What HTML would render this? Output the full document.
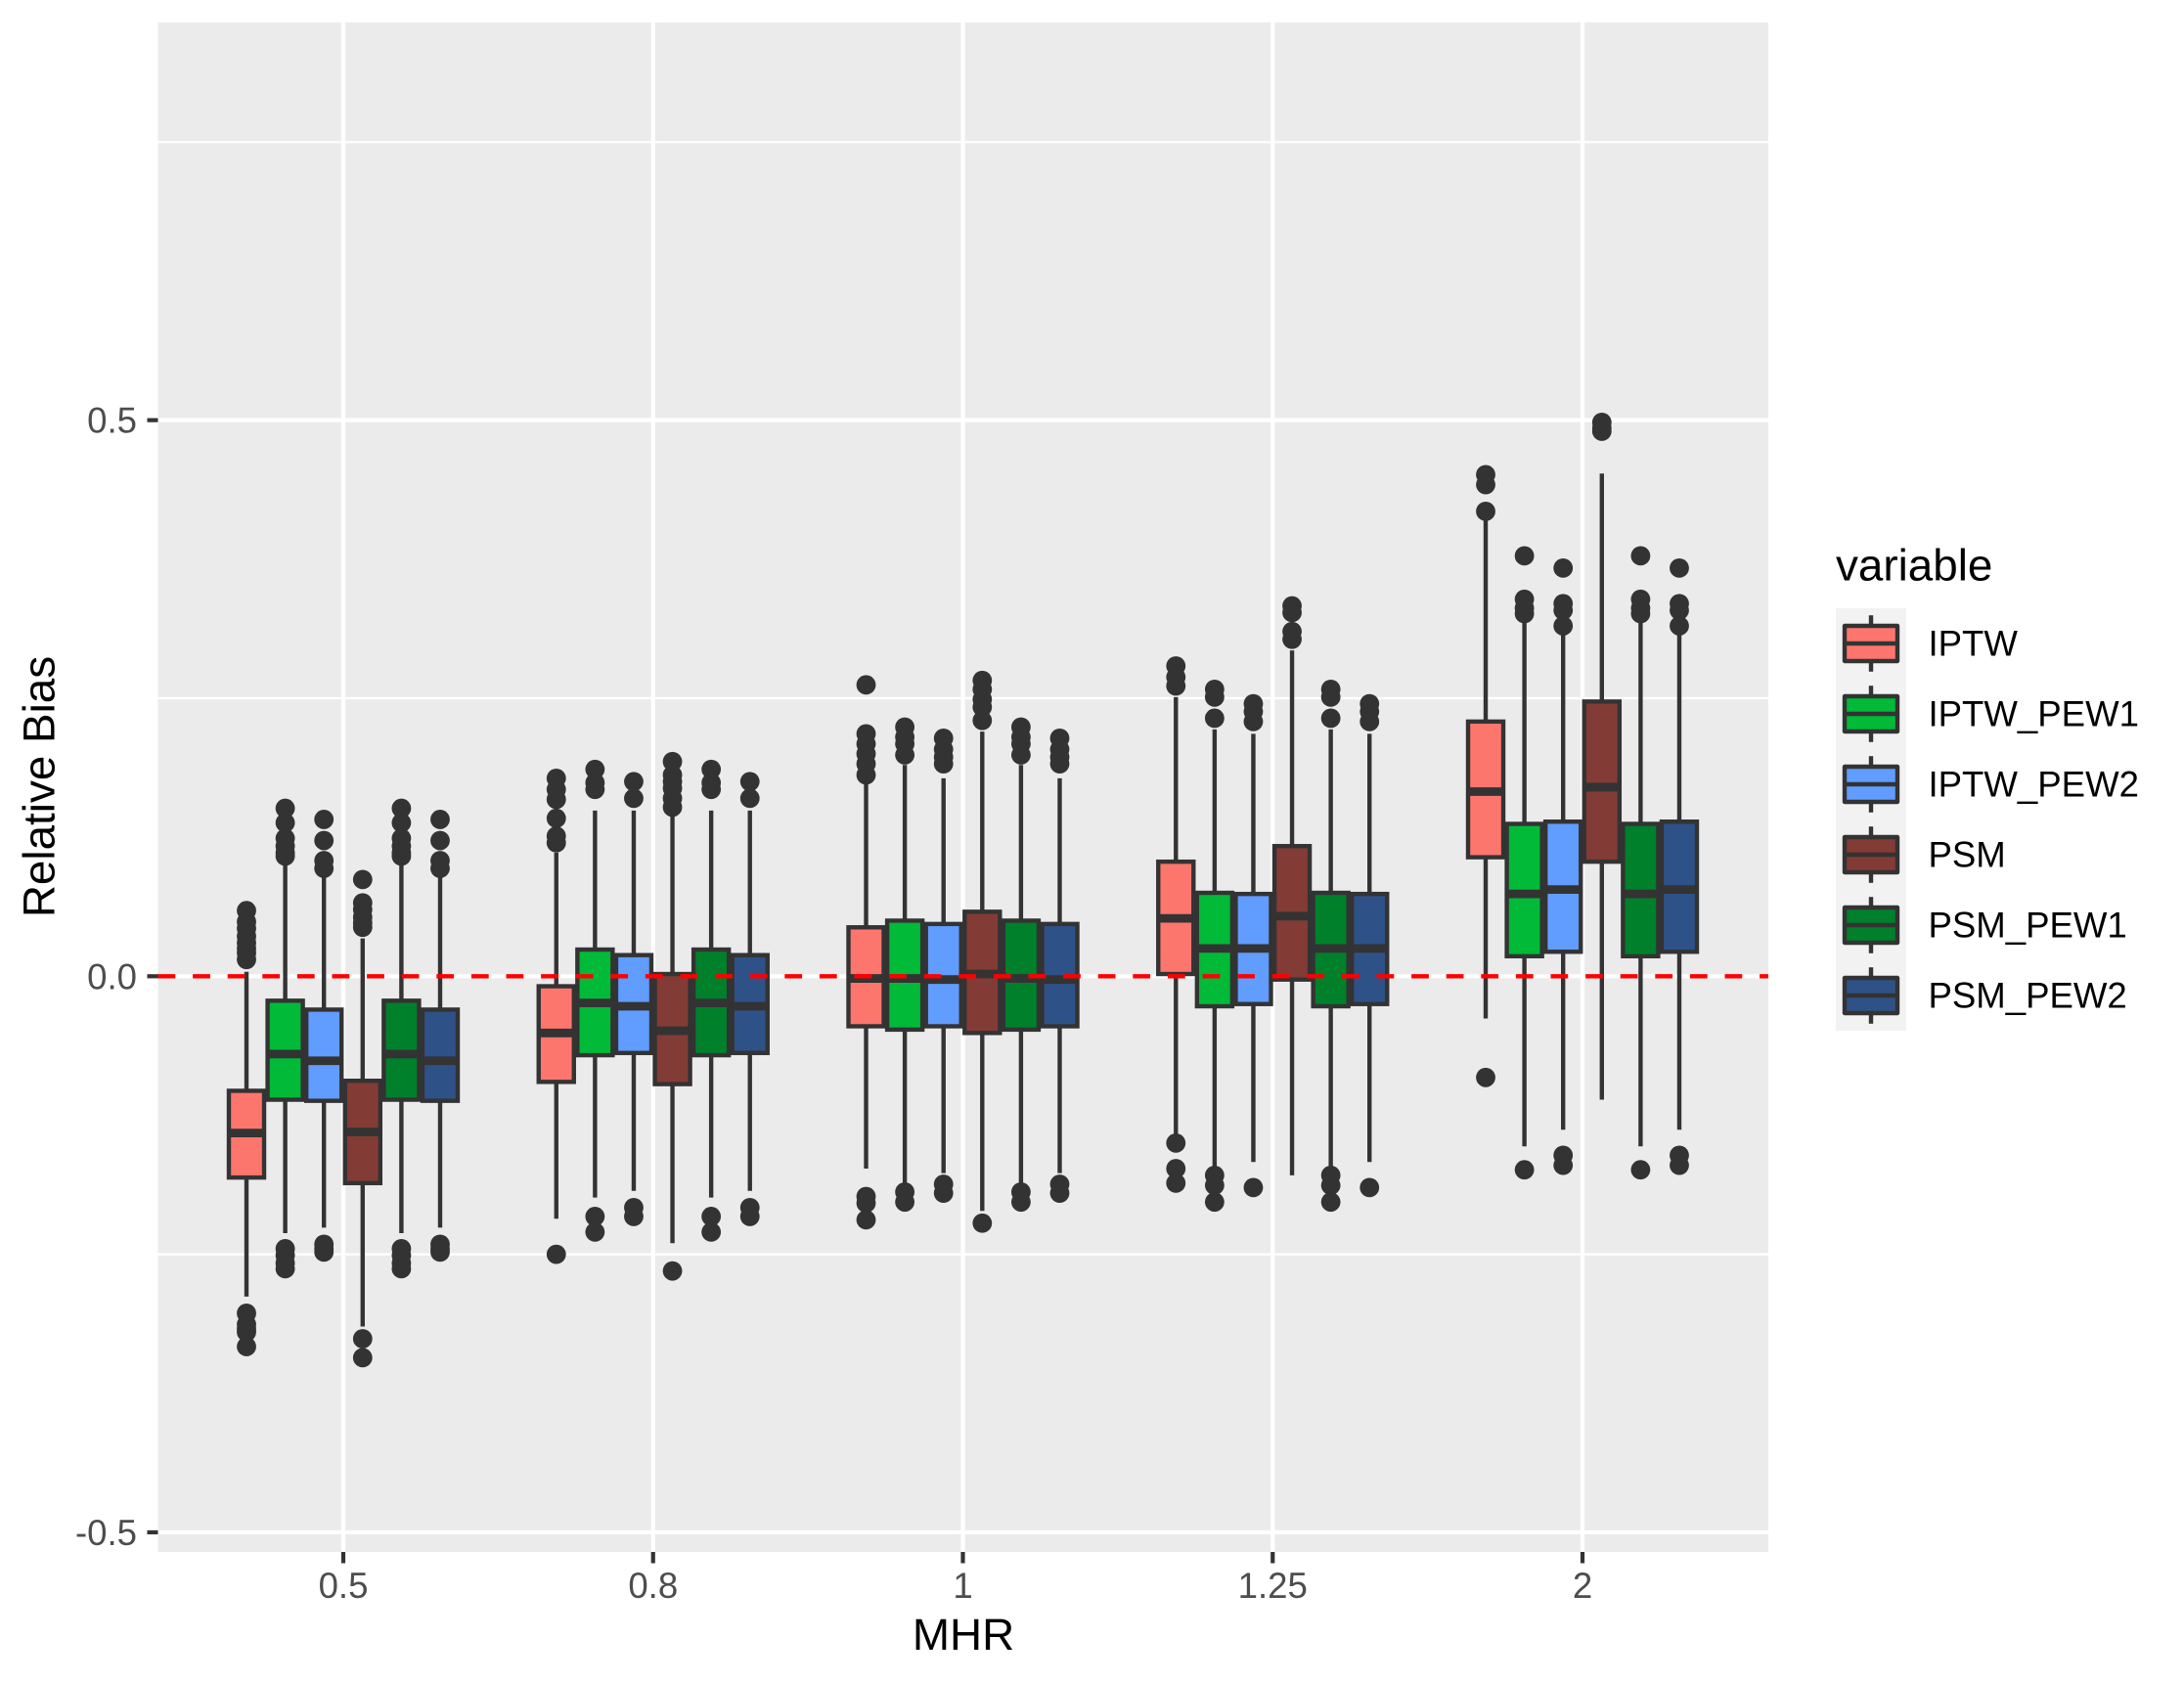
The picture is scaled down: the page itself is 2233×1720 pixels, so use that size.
<!DOCTYPE html>
<html lang="en">
<head>
<meta charset="utf-8">
<title>Relative Bias by MHR</title>
<style>
html,body{margin:0;padding:0;background:#fff;}
svg{display:block;font-family:"Liberation Sans",sans-serif;}
</style>
</head>
<body>
<svg id="chart" xmlns="http://www.w3.org/2000/svg" width="2233" height="1720" viewBox="0 0 2233 1720">
  <rect x="0" y="0" width="2233" height="1720" fill="#ffffff"/>
  <rect x="161.5" y="23" width="1646.5" height="1564" fill="#ebebeb"/>
  <g id="grid"></g>
  <g id="marks"></g>
  <g id="axes"></g>
  <text x="985" y="1687" font-size="45.8" text-anchor="middle" fill="#000">MHR</text>
  <text transform="translate(55.5,804.5) rotate(-90)" font-size="45.8" text-anchor="middle" fill="#000">Relative Bias</text>
  <text x="1877" y="593.5" font-size="45.8" fill="#000">variable</text>
  <g id="legend"></g>
</svg>
<script>
const categories = ["0.5", "0.8", "1", "1.25", "2"];
const methods = ["IPTW", "IPTW_PEW1", "IPTW_PEW2", "PSM", "PSM_PEW1", "PSM_PEW2"];
const yTickLabels = ["-0.5", "0.0", "0.5"];
const yTickValues = [-0.5, 0, 0.5];
const yMinorValues = [-0.25, 0.25, 0.75];
const referenceValue = [0];

// Rows: categories. Columns: methods.
const q3 = [
  [-0.103, -0.022, -0.030, -0.094, -0.022, -0.030],
  [-0.009, 0.024, 0.019, 0.002, 0.024, 0.019],
  [0.044, 0.050, 0.047, 0.058, 0.050, 0.047],
  [0.103, 0.075, 0.074, 0.117, 0.075, 0.074],
  [0.229, 0.137, 0.139, 0.247, 0.137, 0.139]
];
const medians = [
  [-0.141, -0.070, -0.076, -0.140, -0.070, -0.076],
  [-0.051, -0.024, -0.027, -0.049, -0.024, -0.027],
  [-0.002, -0.002, -0.003, 0.002, -0.002, -0.003],
  [0.052, 0.025, 0.025, 0.054, 0.025, 0.025],
  [0.166, 0.074, 0.078, 0.170, 0.074, 0.078]
];
const q1 = [
  [-0.181, -0.111, -0.112, -0.186, -0.111, -0.112],
  [-0.095, -0.071, -0.069, -0.097, -0.071, -0.069],
  [-0.045, -0.048, -0.045, -0.051, -0.048, -0.045],
  [0.002, -0.027, -0.025, -0.003, -0.027, -0.025],
  [0.107, 0.018, 0.022, 0.103, 0.018, 0.022]
];
const whiskerHigh = [
  [0.004, 0.100, 0.090, 0.034, 0.100, 0.090],
  [0.111, 0.149, 0.149, 0.145, 0.149, 0.149],
  [0.173, 0.190, 0.178, 0.220, 0.190, 0.178],
  [0.251, 0.222, 0.218, 0.293, 0.222, 0.218],
  [0.410, 0.318, 0.307, 0.452, 0.318, 0.307]
];
const whiskerLow = [
  [-0.288, -0.231, -0.226, -0.315, -0.231, -0.226],
  [-0.218, -0.199, -0.193, -0.240, -0.199, -0.193],
  [-0.173, -0.187, -0.177, -0.211, -0.187, -0.177],
  [-0.142, -0.171, -0.167, -0.179, -0.171, -0.167],
  [-0.038, -0.153, -0.138, -0.111, -0.153, -0.138]
];
const outliers05 = [
  [0.059, 0.049, 0.043, 0.036, 0.030, 0.025, 0.021, 0.015, -0.303, -0.313, -0.317, -0.320, -0.333],
  [0.151, 0.138, 0.124, 0.117, 0.111, 0.108, -0.245, -0.251, -0.258, -0.263],
  [0.141, 0.122, 0.104, 0.097, -0.241, -0.245, -0.248],
  [0.087, 0.066, 0.060, 0.053, 0.048, 0.044, -0.326, -0.343],
  [0.151, 0.138, 0.124, 0.117, 0.111, 0.108, -0.245, -0.251, -0.258, -0.263],
  [0.141, 0.122, 0.104, 0.097, -0.241, -0.245, -0.248]
];
const outliers08 = [
  [0.178, 0.168, 0.159, 0.142, 0.126, 0.120, -0.250],
  [0.186, 0.174, 0.168, -0.216, -0.230],
  [0.175, 0.160, -0.208, -0.216],
  [0.193, 0.181, 0.175, 0.169, 0.160, 0.152, -0.265],
  [0.186, 0.174, 0.168, -0.216, -0.230],
  [0.175, 0.160, -0.208, -0.216]
];
const outliers1 = [
  [0.262, 0.218, 0.209, 0.200, 0.191, 0.181, -0.198, -0.204, -0.219],
  [0.224, 0.215, 0.209, 0.199, -0.194, -0.203],
  [0.214, 0.204, 0.197, 0.191, -0.187, -0.195],
  [0.266, 0.258, 0.249, 0.242, 0.230, -0.222],
  [0.224, 0.215, 0.209, 0.199, -0.194, -0.203],
  [0.214, 0.204, 0.197, 0.191, -0.187, -0.195]
];
const outliers125 = [
  [0.279, 0.269, 0.261, -0.150, -0.173, -0.186],
  [0.258, 0.251, 0.232, -0.179, -0.188, -0.203],
  [0.245, 0.238, 0.229, -0.190],
  [0.333, 0.327, 0.310, 0.303],
  [0.258, 0.251, 0.232, -0.179, -0.188, -0.203],
  [0.245, 0.238, 0.229, -0.190]
];
const outliers2 = [
  [0.451, 0.442, 0.418, -0.091],
  [0.378, 0.339, 0.331, 0.326, -0.174],
  [0.367, 0.335, 0.329, 0.315, -0.161, -0.170],
  [0.498, 0.493, 0.490],
  [0.378, 0.339, 0.331, 0.326, -0.174],
  [0.367, 0.335, 0.329, 0.315, -0.161, -0.170]
];
const outliers = [outliers05, outliers08, outliers1, outliers125, outliers2];

const methodFills = ["#fc766e", "#00ba38", "#619cff", "#833b36", "#00802b", "#2e5288"];

const NS = "http://www.w3.org/2000/svg";
const INK = "#333333";
const LINE = 4.4;
const PANEL = { left: 161.5, right: 1808, top: 23, bottom: 1587 };

function xScale(position) {
  return 351 + (position - 1) * 316.75;
}
function yScale(value) {
  return 998.3 - value * 1137.3;
}
function svgEl(tag, attrs, parent) {
  const el = document.createElementNS(NS, tag);
  for (const key in attrs) el.setAttribute(key, attrs[key]);
  parent.appendChild(el);
  return el;
}

const gridLayer = document.getElementById("grid");
const marksLayer = document.getElementById("marks");
const axesLayer = document.getElementById("axes");
const legendLayer = document.getElementById("legend");

// Gridlines
yMinorValues.forEach(function (v) {
  const el = svgEl("line", { x1: PANEL.left, x2: PANEL.right, y1: yScale(v), y2: yScale(v), stroke: "#fff", "stroke-width": 2.2 }, gridLayer);
  
  
});
yTickValues.forEach(function (v) {
  const el = svgEl("line", { x1: PANEL.left, x2: PANEL.right, y1: yScale(v), y2: yScale(v), stroke: "#fff", "stroke-width": 4.2 }, gridLayer);
  
  
});
categories.forEach(function (c, i) {
  const x = xScale(i + 1);
  const el = svgEl("line", { x1: x, x2: x, y1: PANEL.top, y2: PANEL.bottom, stroke: "#fff", "stroke-width": 4.2 }, gridLayer);
  
  
});

// Boxplots
const dodgeStep = 0.125;
const boxFill = 0.91;
categories.forEach(function (c, ci) {
  methods.forEach(function (m, mi) {
    const pos = ci + 1 + (mi - 2.5) * dodgeStep;
    const cx = xScale(pos);
    const halfWidth = (xScale(dodgeStep) - xScale(0)) / 2 * boxFill;

    const group = svgEl("g", {}, marksLayer);
    
    

    outliers[ci][mi].forEach(function (v) {
      const dot = svgEl("circle", { cx: cx, cy: yScale(v), r: 9.9, fill: INK }, group);
      
      
    });

    const upper = svgEl("line", { x1: cx, x2: cx, y1: yScale(q3[ci][mi]), y2: yScale(whiskerHigh[ci][mi]), stroke: INK, "stroke-width": LINE }, group);
    
    

    const lower = svgEl("line", { x1: cx, x2: cx, y1: yScale(q1[ci][mi]), y2: yScale(whiskerLow[ci][mi]), stroke: INK, "stroke-width": LINE }, group);
    
    

    const box = svgEl("rect", {
      x: cx - halfWidth,
      y: yScale(q3[ci][mi]),
      width: halfWidth * 2,
      height: yScale(q1[ci][mi]) - yScale(q3[ci][mi]),
      fill: methodFills[mi],
      stroke: INK,
      "stroke-width": LINE
    }, group);
    
    

    const med = svgEl("line", { x1: cx - halfWidth, x2: cx + halfWidth, y1: yScale(medians[ci][mi]), y2: yScale(medians[ci][mi]), stroke: INK, "stroke-width": LINE * 2 }, group);
    
    
  });
});

// Reference line
referenceValue.forEach(function (v) {
  const ref = svgEl("line", { x1: PANEL.left, x2: PANEL.right, y1: yScale(v), y2: yScale(v), stroke: "#ff0000", "stroke-width": 4.4, "stroke-dasharray": "17.8 17.8" }, marksLayer);
  
  
});

// Axes
yTickValues.forEach(function (v, i) {
  const tick = svgEl("line", { x1: 150.5, x2: PANEL.left, y1: yScale(v), y2: yScale(v), stroke: INK, "stroke-width": 4.2 }, axesLayer);
  
  
  const label = svgEl("text", { x: 140, y: yScale(v) + 13, "text-anchor": "end", "font-size": 36.6, fill: "#4d4d4d" }, axesLayer);
  label.textContent = yTickLabels[i];
  
  
});
categories.forEach(function (c, i) {
  const x = xScale(i + 1);
  const tick = svgEl("line", { x1: x, x2: x, y1: PANEL.bottom, y2: 1598.5, stroke: INK, "stroke-width": 4.2 }, axesLayer);
  
  
  const label = svgEl("text", { x: x, y: 1634, "text-anchor": "middle", "font-size": 36.6, fill: "#4d4d4d" }, axesLayer);
  label.textContent = c;
  
  
});

// Legend
const KEY = { left: 1877, top: 622, size: 72 };
methods.forEach(function (m, i) {
  const top = KEY.top + i * KEY.size;
  const cx = KEY.left + KEY.size / 2;
  const cy = top + KEY.size / 2;

  const entry = svgEl("g", {}, legendLayer);
  
  

  const bg = svgEl("rect", { x: KEY.left, y: top, width: KEY.size, height: KEY.size, fill: "#f2f2f2" }, entry);
  
  

  const w1 = svgEl("line", { x1: cx, x2: cx, y1: top + 7.2, y2: top + 18, stroke: INK, "stroke-width": LINE }, entry);
  
  

  const w2 = svgEl("line", { x1: cx, x2: cx, y1: top + 54, y2: top + 64.8, stroke: INK, "stroke-width": LINE }, entry);
  
  

  const box = svgEl("rect", { x: cx - 27, y: top + 18, width: 54, height: 36, fill: methodFills[i], stroke: INK, "stroke-width": LINE, "stroke-linejoin": "round" }, entry);
  
  

  const med = svgEl("line", { x1: cx - 27, x2: cx + 27, y1: cy, y2: cy, stroke: INK, "stroke-width": LINE }, entry);
  
  

  const label = svgEl("text", { x: 1971.5, y: cy + 12.5, "font-size": 36.6, fill: "#000" }, entry);
  label.textContent = m;
  
  
});
</script>
</body>
</html>
